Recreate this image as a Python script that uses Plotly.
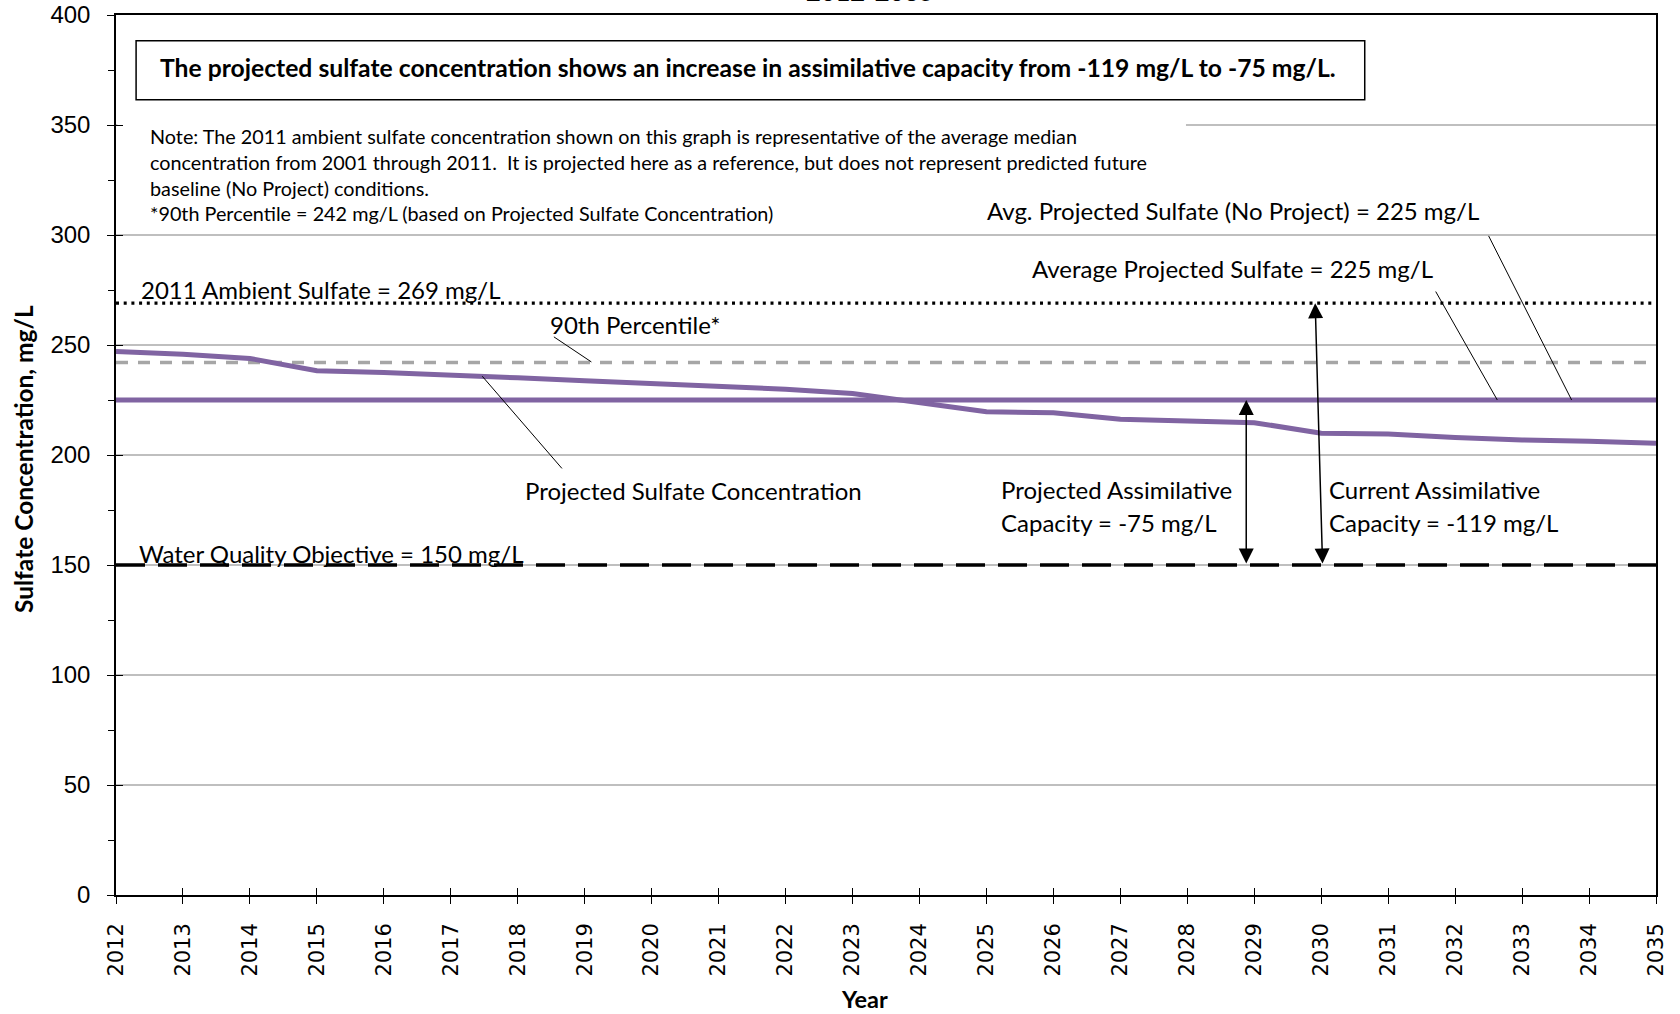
import plotly.graph_objects as go

# ---------------- data ----------------
years = list(range(2012, 2036))
projected_sulfate = [247.0, 245.8, 243.9, 238.3, 237.5, 236.5, 235.1, 233.8, 232.6, 231.2,
                     229.9, 228.0, 224.0, 219.7, 219.2, 216.2, 215.5, 214.7, 209.9, 209.5,
                     208.0, 206.8, 206.2, 205.3]
avg_no_project = 225
avg_projected = 225
ambient_2011 = 269
pct90 = 242
wqo = 150
y_ticks = [0, 50, 100, 150, 200, 250, 300, 350, 400]

ANN_FONT = "Lato, Calibri, Carlito, sans-serif"
NUM_FONT = "Liberation Sans Narrow, Arial Narrow, Liberation Sans, Arial"

fig = go.Figure()

x_ends = [years[0], years[-1]]
# horizontal reference lines
fig.add_trace(go.Scatter(x=x_ends, y=[wqo, wqo], mode="lines",
                         line=dict(color="black", width=3.5, dash="29px,13px"), hoverinfo="skip"))
fig.add_trace(go.Scatter(x=x_ends, y=[avg_projected, avg_projected], mode="lines",
                         line=dict(color="#A6A6A6", width=3.5, dash="12px,10px"), hoverinfo="skip"))
fig.add_trace(go.Scatter(x=x_ends, y=[pct90, pct90], mode="lines",
                         line=dict(color="#A6A6A6", width=3.5, dash="12px,10px"), hoverinfo="skip"))
fig.add_trace(go.Scatter(x=x_ends, y=[ambient_2011, ambient_2011], mode="lines",
                         line=dict(color="black", width=3.3, dash="3px,4.7px"), hoverinfo="skip"))
fig.add_trace(go.Scatter(x=x_ends, y=[avg_no_project, avg_no_project], mode="lines",
                         line=dict(color="#8064A2", width=5), hoverinfo="skip"))
fig.add_trace(go.Scatter(x=years, y=projected_sulfate, mode="lines",
                         line=dict(color="#8064A2", width=5), hoverinfo="skip"))
# invisible trace for overlay axes (inner half of crossing ticks)
fig.add_trace(go.Scatter(x=[years[0]], y=[0], xaxis="x2", yaxis="y2", mode="markers",
                         marker=dict(opacity=0), hoverinfo="skip"))

# white patch hiding gridline behind note text
fig.add_shape(type="rect", xref="x", yref="y", x0=2012.02, x1=2027.98, y0=335, y1=360,
              fillcolor="white", line=dict(width=0), layer="between")
# boxed headline
fig.add_shape(type="rect", xref="x", yref="y", x0=2012.30, x1=2030.65, y0=361.5, y1=388.3,
              fillcolor="white", line=dict(color="black", width=1.5), layer="above")

# pointer lines
pointers = [
    ((2018.54, 253.7), (2019.10, 242.3)),
    ((2017.47, 235.8), (2018.66, 193.9)),
    ((2031.71, 274.3), (2032.63, 225.0)),
    ((2032.50, 299.6), (2033.74, 225.0)),
]
for (x0, y0), (x1, y1) in pointers:
    fig.add_shape(type="line", xref="x", yref="y", x0=x0, y0=y0, x1=x1, y1=y1,
                  line=dict(color="black", width=1))

def txt(x, y, s, size=24, xanchor="left", bold=False, xref="x", yref="y", angle=0):
    fig.add_annotation(x=x, y=y, xref=xref, yref=yref, text=(f"<b>{s}</b>" if bold else s),
                       showarrow=False, xanchor=xanchor, yanchor="middle", textangle=angle,
                       font=dict(family=ANN_FONT, size=size, color="black"))

txt(2012.62, 376.1,
    "The projected sulfate concentration shows an increase in assimilative capacity from -119 mg/L to -75 mg/L.",
    size=24.7, bold=True)
note_lines = [
    "Note: The 2011 ambient sulfate concentration shown on this graph is representative of the average median",
    "concentration from 2001 through 2011.  It is projected here as a reference, but does not represent predicted future",
    "baseline (No Project) conditions.",
    "*90th Percentile = 242 mg/L (based on Projected Sulfate Concentration)",
]
for i, line in enumerate(note_lines):
    txt(2012.48, 344.9 - i * 11.7, line, size=19.8)

txt(2012.34, 275.4, "2011 Ambient Sulfate = 269 mg/L")
txt(2019.76, 259.5, "90th Percentile*", xanchor="center")
txt(2020.62, 184.0, "Projected Sulfate Concentration", xanchor="center")
txt(2012.31, 155.3, "Water Quality Objective = 150 mg/L")
txt(2028.68, 311.3, "Avg. Projected Sulfate (No Project) = 225 mg/L", xanchor="center")
txt(2028.68, 285.0, "Average Projected Sulfate = 225 mg/L", xanchor="center")
txt(2025.19, 184.2, "Projected Assimilative")
txt(2025.19, 169.5, "Capacity = -75 mg/L")
txt(2030.09, 184.2, "Current Assimilative")
txt(2030.09, 169.5, "Capacity = -119 mg/L")

# double-headed arrows
for (xt, yt, xb, yb) in [(2028.88, avg_projected, 2028.88, wqo), (2029.91, ambient_2011, 2030.02, wqo)]:
    fig.add_annotation(x=xt, y=yt, ax=xb, ay=yb, xref="x", yref="y", axref="x", ayref="y",
                       text="", showarrow=True, arrowhead=2, arrowside="end+start",
                       arrowsize=2, arrowwidth=1.5, arrowcolor="black", standoff=0, startstandoff=0)

# axis titles and clipped chart title
txt(0.486, -0.118, "Year", size=23.5, xanchor="center", bold=True, xref="paper", yref="paper")
txt(-0.060, 0.495, "Sulfate Concentration, mg/L", size=24.5, xanchor="center", bold=True,
    xref="paper", yref="paper", angle=-90)
fig.add_annotation(x=0.4895, y=1.008, xref="paper", yref="paper", text="<b>2012-2035</b>",
                   showarrow=False, xanchor="center", yanchor="bottom",
                   font=dict(family=ANN_FONT, size=25.5, color="black"))

fig.update_layout(
    width=1680, height=1014,
    margin=dict(l=116, r=24, t=15, b=119, autoexpand=False),
    paper_bgcolor="white", plot_bgcolor="white",
    showlegend=False,
    xaxis=dict(range=[2012, 2035], dtick=1, tick0=2012, tickangle=-90, automargin=False,
               ticks="outside", ticklen=7, tickwidth=1.2, tickcolor="black",
               showgrid=False, zeroline=False, showline=True, linecolor="black", linewidth=1.5,
               mirror=True, ticklabelstandoff=11,
               tickfont=dict(family="DejaVu Sans", size=21, color="black")),
    yaxis=dict(range=[0, 400], tickvals=y_ticks, automargin=False,
               ticks="outside", ticklen=7, tickwidth=1.2, tickcolor="black",
               minor=dict(dtick=25, ticks="outside", ticklen=6, tickcolor="black", showgrid=False),
               showgrid=True, gridcolor="#BFBFBF", gridwidth=1.5,
               zeroline=False, showline=True, linecolor="black", linewidth=1.5, mirror=True,
               ticklabelstandoff=12,
               tickfont=dict(family=NUM_FONT, size=24, color="black")),
    xaxis2=dict(range=[2012, 2035], dtick=1, tick0=2012, overlaying="x", anchor="y2",
                automargin=False,
                ticks="inside", ticklen=7, tickwidth=1.2, tickcolor="black",
                showticklabels=False, showgrid=False, zeroline=False, showline=False),
    yaxis2=dict(range=[0, 400], tickvals=y_ticks, overlaying="y", anchor="x2",
                automargin=False,
                ticks="inside", ticklen=7, tickwidth=1.2, tickcolor="black",
                showticklabels=False, showgrid=False, zeroline=False, showline=False),
)

fig.write_html("out.html", config={"displayModeBar": False},
               post_script="document.body.style.margin='0';")
